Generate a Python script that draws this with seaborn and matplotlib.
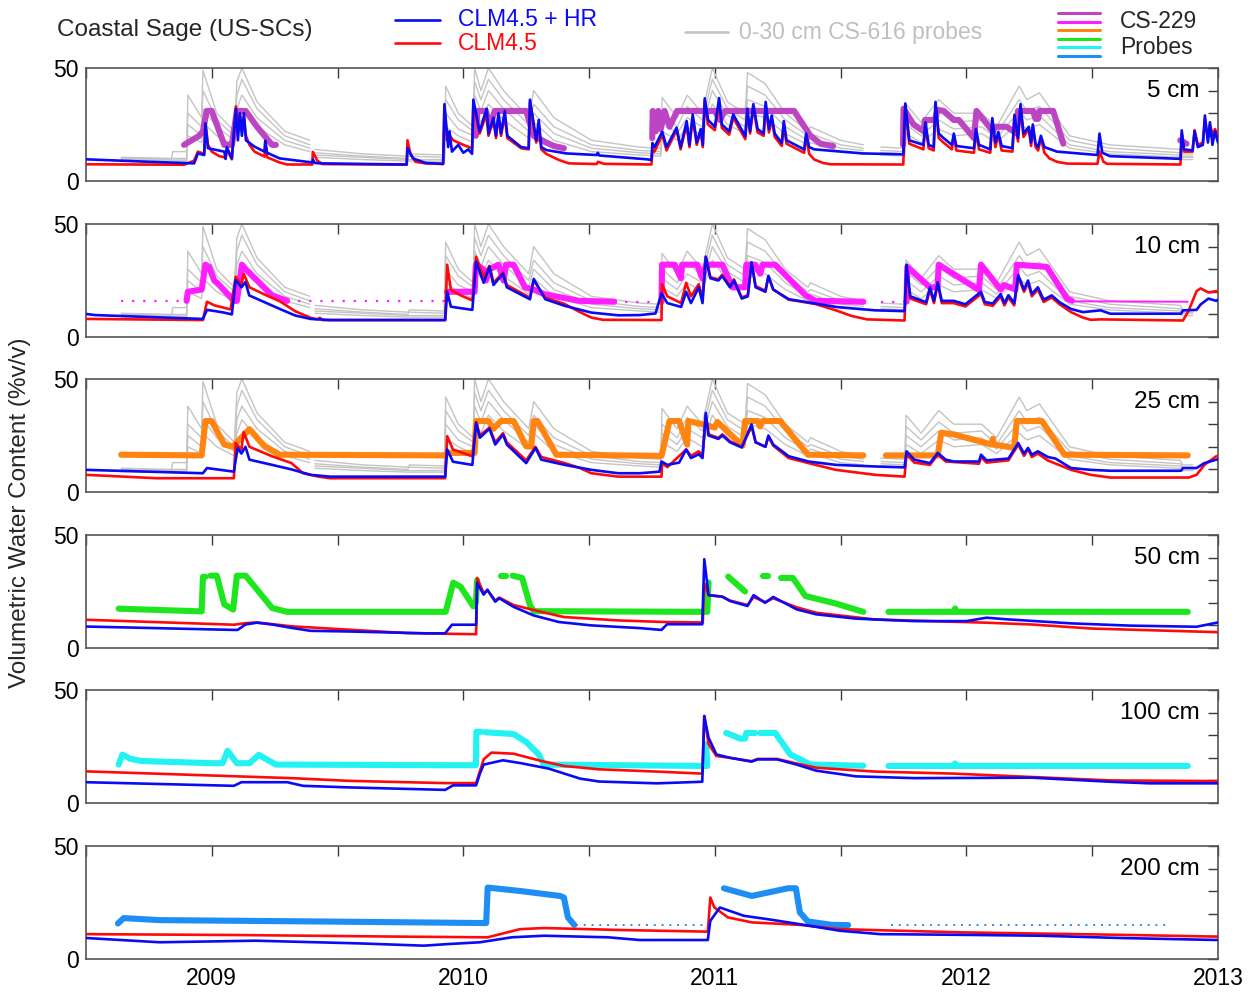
import numpy as np
import pandas as pd
import matplotlib
matplotlib.use("Agg")
import matplotlib.pyplot as plt
from matplotlib.lines import Line2D
import seaborn as sns

nan = float("nan")

# ---------------------------------------------------------------- data
# (decimal year, volumetric water content %) ; nan marks a data gap

# 0-30 cm CS-616 probes (shared by the 5, 10 and 25 cm panels)
probe_t = [2008.64, 2008.84, 2008.845, 2008.90, 2008.905, 2008.96, 2008.965, 2009.02, 2009.09, 2009.10,
           2009.12, 2009.18, 2009.29, 2009.39, 2009.40, 2009.41, 2009.60, 2009.78, 2009.785, 2009.925,
           2009.93, 2009.98, 2010.04, 2010.045, 2010.07, 2010.10, 2010.16, 2010.26, 2010.28, 2010.36,
           2010.51, 2010.70, 2010.785, 2010.79, 2010.85, 2010.89, 2010.95, 2010.99, 2011.05, 2011.12,
           2011.13, 2011.20, 2011.28, 2011.37, 2011.38, 2011.50, 2011.59, 2011.62, 2011.66, 2011.755,
           2011.76, 2011.82, 2011.89, 2011.95, 2012.06, 2012.12, 2012.21, 2012.24, 2012.29, 2012.41,
           2012.57, 2012.85, 2012.86, 2012.90]
probe_a = [10.5, 10.0, 10.0, 10.0, 38, 28, 49, 30, 22, 44,
           50, 35, 22, 18, nan, 14, 12, 11, 11, 10.5,
           42, 30, 24, 50, 40, 50, 40, 28, 40, 28,
           18, 15, 14.5, 37, 28, 38, 30, 50, 35, 30,
           48, 43, 30, 22, 24, 18, 16, nan, 15, 14.5,
           34, 26, 36, 30, 30, 24, 42, 36, 39, 20,
           16, 14, 12, 12]
probe_b = [10.0, 9.8, 13.0, 13.0, 30, 24, 40, 27, 20, 38,
           45, 32, 20, 16, nan, 12.5, 11, 10, 12, 11.5,
           36, 27, 22, 44, 36, 45, 36, 25, 34, 24,
           16, 13.5, 13, 30, 24, 33, 27, 45, 32, 27,
           42, 38, 27, 20, 21, 16, 14.5, nan, 13.5, 13,
           29, 23, 31, 26, 27, 21, 36, 31, 33, 18,
           14.5, 12.5, 11, 11]
probe_c = [9.5, 9.3, 9.3, 9.3, 25, 20, 32, 24, 18, 32,
           38, 28, 18, 14.5, nan, 11.5, 10.5, 9.5, 9.5, 9.5,
           30, 23, 20, 38, 31, 40, 32, 22, 30, 21,
           14.5, 12.5, 12, 26, 21, 28, 24, 40, 29, 24,
           36, 33, 24, 18, 19, 14.5, 13.5, nan, 12.5, 12,
           25, 20, 27, 23, 24, 19, 31, 27, 29, 16,
           13, 11.5, 10.5, 10.5]
probe_d = [9.0, 8.8, 8.8, 8.8, 20, 17, 26, 20, 16, 26,
           32, 24, 16, 13, nan, 10.5, 9.5, 8.8, 8.8, 8.8,
           24, 20, 17, 32, 26, 34, 27, 19, 26, 18,
           13, 11.5, 11, 22, 18, 24, 20, 34, 25, 21,
           30, 28, 21, 16, 17, 13, 12, nan, 11.5, 11,
           21, 17, 23, 20, 21, 17, 26, 23, 25, 14.5,
           12, 10.5, 9.5, 9.5]

# ---- 5 cm
hr_5 = [(2008.50, 9.6), (2008.75, 8.5), (2008.93, 7.8), (2008.945, 12.2), (2008.97, 11.5), (2008.975, 25.5),
        (2008.985, 14.5), (2009.05, 13.0), (2009.055, 9.8), (2009.06, 15.0), (2009.08, 10.0), (2009.096, 32.0),
        (2009.104, 18.0), (2009.112, 30.0), (2009.12, 20.0), (2009.128, 30.0), (2009.136, 18.0), (2009.17, 15.2),
        (2009.21, 13.0), (2009.213, 17.8), (2009.22, 12.5), (2009.27, 10.0), (2009.35, 8.9), (2009.40, 8.2),
        (2009.402, 9.5), (2009.41, 8.0), (2009.43, 7.8), (2009.775, 7.3), (2009.778, 14.5), (2009.80, 10.0),
        (2009.85, 8.0), (2009.92, 7.6), (2009.925, 34.0), (2009.94, 15.0), (2009.945, 22.0), (2009.955, 13.0),
        (2009.98, 16.0), (2010.0, 12.5), (2010.02, 14.0), (2010.035, 12.0), (2010.04, 36.0), (2010.065, 22.0),
        (2010.093, 32.0), (2010.10, 21.0), (2010.12, 28.0), (2010.13, 20.0), (2010.14, 30.0), (2010.15, 21.0),
        (2010.165, 31.0), (2010.175, 20.0), (2010.23, 15.0), (2010.26, 14.5), (2010.265, 36.0), (2010.29, 18.0),
        (2010.30, 27.0), (2010.31, 15.0), (2010.33, 13.7), (2010.41, 12.2), (2010.53, 11.5), (2010.535, 12.5),
        (2010.54, 11.3), (2010.73, 9.6), (2010.748, 9.3), (2010.752, 16.8), (2010.76, 15.0), (2010.791, 21.8),
        (2010.808, 15.0), (2010.848, 23.6), (2010.864, 15.0), (2010.888, 26.5), (2010.899, 16.0), (2010.912, 29.5),
        (2010.928, 17.0), (2010.944, 23.0), (2010.952, 16.0), (2010.96, 36.6), (2010.973, 27.0), (2011.0, 24.0),
        (2011.017, 36.7), (2011.028, 25.0), (2011.057, 22.0), (2011.073, 29.5), (2011.121, 19.8), (2011.129, 32.0),
        (2011.14, 22.0), (2011.153, 34.0), (2011.17, 23.0), (2011.194, 21.0), (2011.202, 35.0), (2011.215, 23.0),
        (2011.226, 29.0), (2011.238, 21.0), (2011.266, 16.8), (2011.274, 26.5), (2011.285, 18.0), (2011.355, 14.0),
        (2011.363, 21.0), (2011.375, 15.0), (2011.395, 14.0), (2011.588, 12.2), (2011.749, 11.8), (2011.757, 34.3),
        (2011.773, 18.0), (2011.829, 16.0), (2011.837, 26.0), (2011.85, 16.0), (2011.87, 15.0), (2011.877, 35.0),
        (2011.89, 21.0), (2011.909, 19.0), (2011.942, 16.0), (2011.95, 21.0), (2011.96, 15.5), (2012.03, 14.5),
        (2012.038, 23.0), (2012.05, 16.0), (2012.095, 14.0), (2012.103, 27.8), (2012.115, 17.0), (2012.127, 21.7),
        (2012.14, 15.5), (2012.183, 14.5), (2012.191, 29.3), (2012.205, 19.0), (2012.215, 34.0), (2012.227, 21.0),
        (2012.248, 24.0), (2012.257, 17.0), (2012.264, 25.0), (2012.275, 16.5), (2012.285, 15.0), (2012.296, 20.0),
        (2012.31, 15.0), (2012.36, 13.0), (2012.521, 11.5), (2012.529, 21.0), (2012.54, 12.5), (2012.57, 11.0),
        (2012.851, 9.8), (2012.856, 22.4), (2012.865, 14.0), (2012.899, 13.5), (2012.907, 22.0), (2012.92, 15.0),
        (2012.94, 16.0), (2012.948, 29.0), (2012.96, 17.0), (2012.968, 26.0), (2012.978, 16.0), (2012.988, 22.0),
        (2013.0, 17.0)]
clm_5 = [(2008.50, 7.4), (2008.89, 7.2), (2008.93, 9.0), (2008.945, 13.0), (2008.97, 12.0), (2008.975, 25.5),
         (2008.985, 16.0), (2009.0, 13.0), (2009.03, 11.0), (2009.05, 10.5), (2009.055, 10.0), (2009.06, 14.0),
         (2009.08, 9.6), (2009.096, 33.0), (2009.104, 22.0), (2009.112, 30.0), (2009.12, 22.0), (2009.128, 28.0),
         (2009.136, 20.0), (2009.15, 16.0), (2009.17, 13.0), (2009.21, 10.8), (2009.213, 17.8), (2009.22, 10.5),
         (2009.27, 8.2), (2009.30, 7.3), (2009.40, 7.3), (2009.402, 12.9), (2009.42, 9.0), (2009.44, 7.5),
         (2009.775, 7.2), (2009.778, 18.0), (2009.79, 12.0), (2009.81, 8.5), (2009.85, 7.8), (2009.92, 7.5),
         (2009.925, 33.0), (2009.935, 18.0), (2009.94, 21.0), (2009.96, 18.0), (2010.0, 16.0), (2010.035, 14.5),
         (2010.04, 34.0), (2010.065, 21.0), (2010.093, 30.0), (2010.10, 20.0), (2010.12, 27.0), (2010.13, 19.0),
         (2010.14, 29.0), (2010.15, 20.0), (2010.165, 29.0), (2010.175, 19.0), (2010.23, 14.5), (2010.26, 14.0),
         (2010.265, 35.0), (2010.29, 17.0), (2010.30, 25.0), (2010.31, 14.0), (2010.33, 12.0), (2010.38, 9.3),
         (2010.42, 7.8), (2010.53, 7.5), (2010.535, 8.5), (2010.56, 7.6), (2010.748, 7.3), (2010.752, 14.0),
         (2010.76, 13.0), (2010.791, 20.5), (2010.808, 13.5), (2010.848, 22.5), (2010.864, 14.0), (2010.888, 25.0),
         (2010.899, 15.0), (2010.912, 28.0), (2010.928, 16.0), (2010.944, 22.0), (2010.952, 15.0), (2010.96, 35.5),
         (2010.973, 25.0), (2011.0, 22.5), (2011.017, 35.0), (2011.028, 23.5), (2011.057, 20.5), (2011.073, 28.0),
         (2011.121, 18.5), (2011.129, 30.5), (2011.14, 21.0), (2011.153, 32.5), (2011.17, 21.5), (2011.194, 20.0),
         (2011.202, 33.5), (2011.215, 21.5), (2011.226, 27.5), (2011.238, 19.5), (2011.266, 15.5), (2011.274, 25.0),
         (2011.285, 16.5), (2011.355, 12.5), (2011.363, 20.0), (2011.375, 12.0), (2011.395, 9.5), (2011.43, 8.0),
         (2011.46, 7.4), (2011.749, 7.3), (2011.757, 33.5), (2011.773, 16.5), (2011.829, 14.0), (2011.837, 25.0),
         (2011.85, 14.5), (2011.87, 13.5), (2011.877, 34.0), (2011.89, 19.0), (2011.909, 17.0), (2011.942, 14.0),
         (2011.95, 20.0), (2011.96, 13.5), (2012.03, 12.5), (2012.038, 22.0), (2012.05, 14.0), (2012.095, 12.5),
         (2012.103, 27.0), (2012.115, 15.0), (2012.127, 20.5), (2012.14, 13.5), (2012.183, 13.0), (2012.191, 28.5),
         (2012.205, 17.5), (2012.215, 33.0), (2012.227, 19.5), (2012.248, 23.0), (2012.257, 15.5), (2012.264, 24.0),
         (2012.275, 15.0), (2012.285, 13.5), (2012.296, 19.0), (2012.31, 12.5), (2012.33, 10.0), (2012.36, 8.5),
         (2012.40, 7.7), (2012.521, 7.6), (2012.529, 13.0), (2012.545, 8.5), (2012.56, 7.6), (2012.851, 7.3),
         (2012.856, 21.0), (2012.865, 13.0), (2012.899, 13.0), (2012.907, 22.5), (2012.92, 16.0), (2012.94, 17.0),
         (2012.948, 27.0), (2012.96, 19.0), (2012.968, 25.0), (2012.98, 20.0), (2012.988, 23.0), (2013.0, 20.0)]
cs_5 = [(2008.89, 16), (2008.92, 18), (2008.95, 20), (2008.965, 22), (2008.98, 31), (2009.0, 31), (2009.02, 25),
        (2009.05, 16), (2009.08, 16), (2009.10, 31), (2009.135, 31), (2009.18, 24), (2009.24, 16), (2009.255, 16),
        (2009.26, nan),
        (2010.05, 20), (2010.056, 31), (2010.09, 31), (2010.105, 24), (2010.125, 31), (2010.25, 31), (2010.28, 20),
        (2010.33, 17), (2010.36, 15.5), (2010.40, 14.5), (2010.41, nan),
        (2010.751, 19), (2010.753, 31), (2010.765, 22), (2010.775, 31), (2010.785, 23), (2010.80, 31),
        (2010.82, 24), (2010.85, 31), (2011.0, 31), (2011.02, 27), (2011.04, 31), (2011.315, 31), (2011.38, 20),
        (2011.42, 16.5), (2011.47, 15.5), (2011.48, nan),
        (2011.748, 16), (2011.75, 32), (2011.79, 25), (2011.83, 22), (2011.835, 27), (2011.875, 27),
        (2011.885, 31.5), (2011.91, 31), (2011.95, 27), (2011.97, 27), (2012.03, 19), (2012.04, 31),
        (2012.105, 22), (2012.115, 24), (2012.16, 24), (2012.2, 21), (2012.205, 31), (2012.265, 31),
        (2012.275, 27.5), (2012.285, 27.5), (2012.29, 31), (2012.345, 31), (2012.385, 16.5), (2012.39, nan),
        (2012.85, 18), (2012.875, 16.5)]

# ---- 10 cm
hr_10 = [(2008.50, 10.2), (2008.537, 9.7), (2008.965, 8.0), (2008.981, 12.0), (2009.011, 11.5), (2009.049, 10.8),
         (2009.08, 10.0), (2009.095, 25.2), (2009.118, 22.0), (2009.134, 24.3), (2009.149, 18.4), (2009.21, 15.4),
         (2009.271, 12.4), (2009.332, 9.5), (2009.393, 8.0), (2009.47, 7.5), (2009.928, 7.5), (2009.936, 20.0),
         (2009.951, 13.4), (2010.036, 12.0), (2010.051, 33.3), (2010.081, 24.0), (2010.104, 31.0), (2010.12, 23.0),
         (2010.158, 28.0), (2010.173, 22.0), (2010.265, 16.7), (2010.28, 25.7), (2010.326, 16.7), (2010.403, 13.8),
         (2010.509, 10.8), (2010.616, 9.6), (2010.702, 9.7), (2010.764, 10.4), (2010.788, 19.3), (2010.811, 15.0),
         (2010.866, 13.3), (2010.886, 20.0), (2010.905, 15.0), (2010.936, 22.0), (2010.951, 15.0), (2010.964, 35.5),
         (2010.982, 26.0), (2011.014, 25.0), (2011.029, 27.0), (2011.06, 22.0), (2011.076, 25.0), (2011.107, 17.0),
         (2011.131, 18.0), (2011.146, 33.0), (2011.162, 22.0), (2011.201, 20.0), (2011.213, 27.0), (2011.232, 21.0),
         (2011.294, 16.7), (2011.372, 15.3), (2011.481, 13.3), (2011.637, 11.8), (2011.754, 11.5), (2011.762, 32.0),
         (2011.777, 18.0), (2011.84, 15.4), (2011.855, 22.0), (2011.871, 16.0), (2011.886, 24.3), (2011.902, 16.0),
         (2011.949, 16.0), (2011.996, 14.5), (2012.058, 20.0), (2012.073, 15.5), (2012.105, 14.8), (2012.136, 19.0),
         (2012.151, 15.0), (2012.167, 18.5), (2012.19, 15.0), (2012.206, 27.4), (2012.229, 21.0), (2012.245, 25.0),
         (2012.26, 19.0), (2012.284, 22.0), (2012.307, 16.5), (2012.339, 18.4), (2012.37, 15.4), (2012.416, 12.4),
         (2012.463, 11.0), (2012.533, 11.8), (2012.572, 10.3), (2012.853, 10.3), (2012.861, 11.8), (2012.915, 12.0),
         (2012.931, 14.4), (2012.962, 17.0), (2012.993, 16.0), (2013.0, 16.5)]
clm_10 = [(2008.50, 8.0), (2008.965, 7.5), (2008.981, 15.6), (2009.011, 14.0), (2009.075, 12.2), (2009.095, 26.7),
          (2009.118, 23.0), (2009.127, 28.0), (2009.15, 22.0), (2009.21, 18.8), (2009.271, 15.8), (2009.332, 11.4),
          (2009.393, 8.5), (2009.42, 7.8), (2009.43, 8.5), (2009.44, 7.5), (2009.928, 7.5), (2009.936, 32.0),
          (2009.951, 20.8), (2009.99, 18.4), (2010.036, 16.2), (2010.051, 35.5), (2010.081, 26.6), (2010.104, 31.5),
          (2010.12, 24.0), (2010.158, 28.5), (2010.173, 23.0), (2010.265, 17.4), (2010.28, 25.0), (2010.326, 17.4),
          (2010.403, 14.6), (2010.464, 11.0), (2010.509, 8.6), (2010.555, 7.6), (2010.788, 7.5), (2010.79, 23.4),
          (2010.811, 18.0), (2010.866, 15.0), (2010.886, 24.0), (2010.905, 18.0), (2010.936, 23.4), (2010.951, 17.0),
          (2010.964, 35.5), (2010.982, 26.5), (2011.014, 25.5), (2011.029, 27.5), (2011.06, 22.5), (2011.076, 25.5),
          (2011.107, 17.5), (2011.131, 18.5), (2011.146, 33.0), (2011.162, 22.5), (2011.201, 20.5), (2011.213, 27.0),
          (2011.232, 21.0), (2011.294, 16.5), (2011.325, 16.0), (2011.40, 14.6), (2011.481, 11.8), (2011.544, 9.3),
          (2011.605, 7.8), (2011.754, 7.3), (2011.762, 30.0), (2011.777, 17.0), (2011.84, 14.5), (2011.855, 21.0),
          (2011.871, 15.0), (2011.886, 23.5), (2011.902, 15.0), (2011.949, 15.0), (2011.996, 13.5), (2012.058, 19.0),
          (2012.073, 14.5), (2012.105, 13.8), (2012.136, 18.0), (2012.151, 14.0), (2012.167, 17.5), (2012.19, 14.0),
          (2012.206, 26.5), (2012.229, 20.0), (2012.245, 24.0), (2012.26, 18.0), (2012.284, 21.0), (2012.307, 15.5),
          (2012.339, 17.5), (2012.37, 14.5), (2012.416, 11.0), (2012.463, 8.6), (2012.494, 7.6), (2012.533, 7.8),
          (2012.861, 7.3), (2012.884, 11.8), (2012.915, 20.3), (2012.931, 21.5), (2012.962, 19.7), (2012.993, 20.3),
          (2013.0, 20.0)]
cs_10 = [(2008.90, 16), (2008.905, 20), (2008.96, 21), (2008.975, 32), (2008.99, 31), (2009.01, 25), (2009.03, 23),
         (2009.088, 16), (2009.10, 16), (2009.12, 32), (2009.135, 30), (2009.24, 18.4), (2009.30, 16),
         (2009.31, nan),
         (2009.935, 20), (2010.045, 20), (2010.05, 32), (2010.08, 30), (2010.09, 25), (2010.105, 30),
         (2010.14, 32), (2010.16, 25), (2010.17, 32), (2010.20, 32), (2010.245, 22), (2010.28, 21), (2010.32, 19),
         (2010.46, 16), (2010.60, 15.6), (2010.61, nan),
         (2010.788, 15.6), (2010.79, 32), (2010.84, 32), (2010.865, 26), (2010.87, 32), (2010.93, 32),
         (2010.95, 26), (2010.965, 32), (2011.03, 32), (2011.07, 22), (2011.12, 22), (2011.125, 32),
         (2011.16, 32), (2011.18, 28), (2011.19, 32), (2011.24, 32), (2011.36, 18.5), (2011.40, 16),
         (2011.59, 15.6), (2011.60, nan),
         (2011.762, 15.6), (2011.765, 31), (2011.855, 22), (2011.885, 22), (2011.89, 32), (2012.05, 20.8),
         (2012.058, 32), (2012.136, 21), (2012.15, 23), (2012.195, 21), (2012.2, 32), (2012.32, 31),
         (2012.40, 17), (2012.42, 16)]
cs_10_sparse = [(2008.64, 15.8), (2008.90, 15.8), (2008.91, nan), (2009.30, 15.8), (2009.935, 15.8),
                (2009.94, nan), (2010.60, 15.6), (2010.788, 15.6), (2010.79, nan), (2011.66, 15.6),
                (2011.762, 15.6)]
cs_10_tail = [(2012.42, 15.8), (2012.88, 15.6)]

# ---- 25 cm
hr_25 = [(2008.50, 9.8), (2008.965, 8.3), (2008.981, 10.6), (2009.088, 9.0), (2009.103, 19.5), (2009.118, 17.0),
         (2009.134, 20.0), (2009.15, 14.3), (2009.24, 12.0), (2009.317, 10.0), (2009.393, 7.6), (2009.47, 6.8),
         (2009.928, 6.8), (2009.936, 18.8), (2009.959, 13.4), (2010.036, 12.0), (2010.051, 30.6), (2010.066, 24.0),
         (2010.104, 28.0), (2010.127, 21.0), (2010.158, 25.4), (2010.173, 21.0), (2010.25, 12.8), (2010.287, 19.5),
         (2010.31, 14.3), (2010.403, 12.0), (2010.509, 9.8), (2010.616, 8.3), (2010.702, 8.3), (2010.78, 9.0),
         (2010.788, 13.5), (2010.811, 12.0), (2010.858, 13.0), (2010.886, 18.8), (2010.905, 15.0), (2010.936, 16.7),
         (2010.951, 15.0), (2010.964, 35.0), (2010.975, 25.0), (2011.014, 23.5), (2011.03, 25.0), (2011.06, 22.0),
         (2011.107, 19.7), (2011.146, 29.9), (2011.162, 22.0), (2011.201, 20.0), (2011.213, 25.0), (2011.232, 21.0),
         (2011.294, 15.8), (2011.372, 13.5), (2011.481, 12.0), (2011.637, 11.3), (2011.754, 10.9), (2011.762, 18.0),
         (2011.793, 14.3), (2011.855, 12.8), (2011.886, 17.3), (2011.918, 14.3), (2011.95, 13.5), (2012.05, 13.5),
         (2012.058, 16.5), (2012.08, 14.0), (2012.167, 14.8), (2012.206, 21.7), (2012.229, 17.0), (2012.245, 19.5),
         (2012.26, 16.5), (2012.284, 18.0), (2012.323, 15.5), (2012.354, 14.8), (2012.416, 10.6), (2012.494, 9.8),
         (2012.572, 9.4), (2012.853, 9.4), (2012.861, 10.6), (2012.915, 10.6), (2012.946, 12.8), (2012.993, 14.3),
         (2013.0, 14.5)]
clm_25 = [(2008.50, 7.6), (2008.78, 6.1), (2009.088, 6.1), (2009.095, 21.7), (2009.118, 18.8), (2009.127, 26.5),
          (2009.15, 20.0), (2009.24, 15.8), (2009.317, 12.8), (2009.363, 8.3), (2009.424, 6.8), (2009.47, 6.1),
          (2009.928, 6.1), (2009.936, 24.7), (2009.959, 18.8), (2010.036, 15.8), (2010.051, 31.0), (2010.066, 25.0),
          (2010.104, 28.5), (2010.127, 22.0), (2010.158, 26.0), (2010.173, 22.0), (2010.25, 14.0), (2010.287, 20.0),
          (2010.31, 15.5), (2010.403, 12.8), (2010.464, 10.6), (2010.509, 8.3), (2010.616, 6.8), (2010.788, 6.8),
          (2010.79, 12.8), (2010.811, 11.0), (2010.886, 18.8), (2010.905, 16.0), (2010.936, 18.0), (2010.951, 16.0),
          (2010.964, 34.0), (2010.975, 25.5), (2011.014, 24.0), (2011.03, 25.5), (2011.06, 22.5), (2011.107, 20.0),
          (2011.146, 29.0), (2011.162, 22.0), (2011.201, 20.0), (2011.213, 24.5), (2011.232, 20.5), (2011.294, 15.0),
          (2011.372, 12.8), (2011.481, 9.8), (2011.637, 7.6), (2011.754, 6.8), (2011.762, 16.7), (2011.793, 13.0),
          (2011.855, 12.0), (2011.886, 16.5), (2011.918, 13.5), (2012.05, 12.5), (2012.058, 15.5), (2012.08, 13.0),
          (2012.167, 14.0), (2012.206, 21.0), (2012.229, 16.0), (2012.245, 19.0), (2012.26, 15.5), (2012.284, 17.0),
          (2012.323, 14.0), (2012.416, 9.8), (2012.494, 7.6), (2012.572, 6.4), (2012.884, 6.4), (2012.915, 7.6),
          (2012.946, 12.0), (2012.993, 15.8), (2013.0, 16.0)]
cs_25 = [(2008.64, 16.5), (2008.96, 16.2), (2008.975, 31.4), (2009.0, 31.4), (2009.05, 21), (2009.085, 20),
         (2009.10, 22), (2009.15, 27.8), (2009.21, 20.2), (2009.27, 16.5), (2009.928, 16.2), (2009.936, 17.3),
         (2010.045, 17.3), (2010.051, 31.4), (2010.10, 31.4), (2010.12, 28), (2010.15, 31.4), (2010.20, 31.4),
         (2010.25, 20.2), (2010.27, 20.2), (2010.28, 31.4), (2010.295, 31.4), (2010.37, 16.5), (2010.788, 16.0),
         (2010.82, 31.4), (2010.858, 31.4), (2010.89, 21), (2010.895, 31.4), (2010.95, 30), (2011.0, 28.5),
         (2011.01, 31), (2011.11, 20.5), (2011.12, 31.4), (2011.17, 31.4), (2011.18, 29), (2011.19, 31.4),
         (2011.26, 31.4), (2011.37, 16.5), (2011.59, 16.2), (2011.60, nan),
         (2011.68, 16.2), (2011.886, 16.2), (2011.90, 26.2), (2011.95, 25.5), (2012.05, 22.5), (2012.10, 21),
         (2012.105, 23.5), (2012.11, 21), (2012.19, 19.5), (2012.20, 31.4), (2012.30, 31.4), (2012.39, 16.5),
         (2012.88, 16.2)]

# ---- 50 cm
hr_50 = [(2008.50, 9.5), (2009.088, 8.0), (2009.103, 8.0), (2009.134, 10.4), (2009.18, 11.2), (2009.24, 10.4),
         (2009.317, 8.9), (2009.393, 7.6), (2009.546, 7.3), (2009.852, 6.5), (2009.928, 6.5), (2009.955, 10.3),
         (2010.051, 10.3), (2010.055, 28.8), (2010.081, 23.6), (2010.096, 25.8), (2010.127, 20.5), (2010.143, 22.0),
         (2010.20, 18.2), (2010.28, 14.4), (2010.38, 11.5), (2010.509, 10.0), (2010.702, 8.8), (2010.788, 8.0),
         (2010.81, 10.5), (2010.95, 10.5), (2010.958, 39.3), (2010.975, 23.4), (2011.03, 22.7), (2011.06, 20.8),
         (2011.13, 18.6), (2011.154, 23.4), (2011.2, 20.0), (2011.232, 22.6), (2011.325, 17.1), (2011.403, 14.9),
         (2011.56, 13.0), (2011.793, 11.9), (2012.0, 11.9), (2012.08, 13.4), (2012.16, 12.7), (2012.416, 10.9),
         (2012.65, 9.9), (2012.915, 9.4), (2013.0, 11.3)]
clm_50 = [(2008.50, 12.5), (2009.088, 10.3), (2009.134, 11.0), (2009.18, 11.3), (2009.317, 9.6), (2009.546, 8.1),
          (2009.775, 6.6), (2010.051, 6.1), (2010.055, 31.0), (2010.081, 24.3), (2010.096, 25.5), (2010.127, 21.0),
          (2010.143, 22.3), (2010.20, 19.0), (2010.31, 16.0), (2010.40, 13.7), (2010.616, 12.2), (2010.80, 11.5),
          (2010.952, 11.3), (2010.958, 28.4), (2010.975, 23.4), (2011.03, 22.7), (2011.06, 21.0), (2011.13, 19.0),
          (2011.154, 22.5), (2011.2, 20.3), (2011.232, 22.0), (2011.325, 18.0), (2011.403, 15.6), (2011.637, 12.6),
          (2011.95, 11.6), (2012.08, 11.2), (2012.26, 10.4), (2012.50, 8.6), (2013.0, 7.0)]
cs_50 = [(2008.63, 17.4), (2008.96, 16.2), (2008.965, 31.5), (2008.975, 31.5), (2008.98, nan),
         (2008.995, 32), (2009.02, 32), (2009.05, 19.3), (2009.085, 17), (2009.10, 32), (2009.135, 32),
         (2009.24, 17.7), (2009.30, 16), (2009.93, 16), (2009.96, 28.9), (2009.99, 27), (2010.04, 18.4),
         (2010.05, 20), (2010.055, 30), (2010.06, nan),
         (2010.15, 31.8), (2010.17, 31.8), (2010.18, nan),
         (2010.196, 32), (2010.234, 31), (2010.265, 19), (2010.28, 16.3), (2010.97, 16), (2010.975, 29),
         (2010.98, nan),
         (2011.053, 31.6), (2011.12, 25), (2011.125, nan),
         (2011.19, 32), (2011.21, 32), (2011.215, nan),
         (2011.263, 31), (2011.31, 31), (2011.36, 23), (2011.48, 19.7), (2011.59, 16), (2011.60, nan),
         (2011.69, 16), (2011.95, 16), (2011.955, 17.5), (2011.96, 16), (2012.88, 16)]

# ---- 100 cm
hr_100 = [(2008.50, 9.2), (2009.088, 7.6), (2009.118, 9.2), (2009.30, 9.2), (2009.363, 7.6), (2009.546, 6.9),
          (2009.928, 5.8), (2009.959, 7.8), (2010.051, 7.8), (2010.066, 13.0), (2010.081, 17.0), (2010.158, 18.9),
          (2010.23, 17.6), (2010.34, 15.2), (2010.464, 10.8), (2010.54, 9.5), (2010.77, 8.7), (2010.95, 9.4),
          (2010.958, 38.5), (2010.975, 28.9), (2011.006, 21.5), (2011.06, 20.0), (2011.146, 18.3), (2011.17, 19.3),
          (2011.247, 19.3), (2011.325, 17.0), (2011.403, 14.3), (2011.56, 11.8), (2011.793, 11.0), (2012.26, 11.2),
          (2012.572, 9.4), (2012.728, 8.7), (2013.0, 8.7)]
clm_100 = [(2008.50, 14.0), (2009.317, 11.0), (2009.546, 9.8), (2009.928, 8.8), (2010.051, 8.8), (2010.081, 19.3),
           (2010.112, 22.3), (2010.20, 21.8), (2010.31, 18.6), (2010.40, 16.4), (2010.54, 14.9), (2010.77, 13.9),
           (2010.95, 13.0), (2010.958, 38.5), (2010.975, 26.0), (2011.006, 20.8), (2011.06, 20.0), (2011.146, 18.5),
           (2011.17, 19.5), (2011.247, 19.5), (2011.325, 17.5), (2011.403, 15.6), (2011.637, 13.9), (2011.95, 13.0),
           (2012.26, 11.5), (2012.572, 10.0), (2013.0, 9.7)]
cs_100 = [(2008.63, 17), (2008.645, 21.4), (2008.675, 19.6), (2008.72, 18.6), (2009.0, 17.6), (2009.043, 17.6),
          (2009.063, 23.1), (2009.10, 17.6), (2009.15, 17.6), (2009.187, 21.3), (2009.255, 17), (2010.05, 16.7),
          (2010.052, 31.5), (2010.072, 31.5), (2010.078, nan),
          (2010.088, 31.3), (2010.20, 30.5), (2010.25, 27), (2010.30, 21.5), (2010.32, 17), (2010.96, 16.4),
          (2010.965, 26), (2010.97, 16.4), (2010.975, nan),
          (2011.045, 31), (2011.08, 29.5), (2011.10, 28.5), (2011.12, 28.5), (2011.125, 31), (2011.16, 31),
          (2011.165, nan),
          (2011.18, 31), (2011.24, 31), (2011.30, 21.5), (2011.38, 17), (2011.59, 16.5), (2011.60, nan),
          (2011.69, 16.4), (2011.95, 16.4), (2011.955, 17.5), (2011.96, 16.4), (2012.88, 16.4)]

# ---- 200 cm
hr_200 = [(2008.50, 9.3), (2008.793, 7.4), (2009.175, 8.1), (2009.588, 6.9), (2009.843, 5.9), (2009.938, 6.6),
          (2010.066, 7.4), (2010.193, 9.6), (2010.32, 10.3), (2010.575, 9.6), (2010.702, 8.4), (2010.972, 8.4),
          (2010.982, 16.9), (2011.02, 22.8), (2011.116, 19.1), (2011.211, 17.6), (2011.338, 15.4), (2011.497, 12.5),
          (2011.657, 11.0), (2011.975, 10.7), (2012.293, 10.3), (2012.611, 9.3), (2013.0, 8.4)]
clm_200 = [(2008.50, 11.0), (2009.111, 10.6), (2009.747, 9.9), (2010.097, 9.6), (2010.225, 13.2), (2010.32, 13.7),
           (2010.638, 12.8), (2010.972, 12.1), (2010.982, 27.2), (2010.998, 22.8), (2011.052, 18.4),
           (2011.147, 16.2), (2011.338, 15.1), (2011.497, 13.2), (2011.975, 11.8), (2012.611, 10.7), (2013.0, 9.9)]
cs_200 = [(2008.627, 15.7), (2008.65, 18.1), (2008.793, 17.2), (2009.429, 16.6), (2010.091, 15.9),
          (2010.097, 31.6), (2010.225, 30.1), (2010.384, 27.9), (2010.40, 27.2), (2010.416, 18.4),
          (2010.441, 15.1), (2010.45, nan),
          (2011.036, 31.3), (2011.147, 27.9), (2011.211, 29.4), (2011.291, 31.3), (2011.322, 31.3),
          (2011.338, 20.6), (2011.37, 16.6), (2011.466, 15.1), (2011.53, 15.0)]
cs_200_sparse = [(2010.45, 15.1), (2010.96, 15.1), (2010.97, nan), (2011.70, 15.0), (2012.80, 15.0)]

depth_labels = ["5 cm", "10 cm", "25 cm", "50 cm", "100 cm", "200 cm"]

# ---------------------------------------------------------------- style
C_HR = "#0a0af5"
C_CLM = "#ff0a0a"
C_GRAY = "#c4c4c4"
C_PROBE = ["#bd45c4", "#ff1eff", "#ff8410", "#1ee61e", "#22f2f2", "#1e8ef5"]

sns.set_theme(style="white")
plt.rcParams["font.family"] = ["Liberation Sans", "DejaVu Sans"]


def frame(pairs):
    df = pd.DataFrame(pairs, columns=["year", "vwc"])
    df["seg"] = df["vwc"].isna().cumsum()
    return df.dropna()


def draw(ax, pairs, color, lw, z, ls="-"):
    sns.lineplot(data=frame(pairs), x="year", y="vwc", units="seg", estimator=None,
                 sort=False, color=color, linewidth=lw, linestyle=ls, ax=ax,
                 zorder=z, legend=False)


fig = plt.figure(figsize=(12.51, 10), dpi=100)
left, width, height = 0.0687, 0.9049, 0.113
bottoms = [0.819, 0.663, 0.508, 0.352, 0.197, 0.041]

model_hr = [hr_5, hr_10, hr_25, hr_50, hr_100, hr_200]
model_clm = [clm_5, clm_10, clm_25, clm_50, clm_100, clm_200]
observed = [cs_5, cs_10, cs_25, cs_50, cs_100, cs_200]
gray_lines = [probe_a, probe_b, probe_c, probe_d]

axes = [fig.add_axes([left, b, width, height]) for b in bottoms]

for i, ax in enumerate(axes):
    if i < 3:
        for g in gray_lines:
            draw(ax, list(zip(probe_t, g)), C_GRAY, 1.0, 1)
    draw(ax, observed[i], C_PROBE[i], 4.4, 2)
    draw(ax, model_clm[i], C_CLM, 1.9, 3)
    draw(ax, model_hr[i], C_HR, 1.9, 4)

draw(axes[1], cs_10_sparse, C_PROBE[1], 1.6, 2, ls=(0, (1, 4)))
draw(axes[1], cs_10_tail, C_PROBE[1], 1.4, 2)
draw(axes[5], cs_200_sparse, C_PROBE[5], 1.4, 2, ls=(0, (1, 3)))

half_years = np.arange(2008.5, 2013.01, 0.5)
for i, ax in enumerate(axes):
    ax.set_xlim(2008.5, 2013.0)
    ax.set_ylim(0, 50)
    ax.set_xlabel("")
    ax.set_ylabel("")
    ax.set_xticks(half_years)
    if i == 5:
        ax.set_xticklabels([str(int(t)) if float(t).is_integer() else "" for t in half_years])
    else:
        ax.set_xticklabels([])
    ax.set_yticks([0, 10, 20, 30, 40, 50])
    ax.set_yticklabels(["0", "", "", "", "", "50"])
    ax.tick_params(direction="in", top=True, right=True, length=7, width=1.0,
                   color="#3a3a3a", labelcolor="black", labelsize=16.5)
    ax.tick_params(axis="x", pad=6)
    ax.tick_params(axis="y", pad=5)
    for sp in ax.spines.values():
        sp.set_color("#555555")
        sp.set_linewidth(1.2)
    ax.text(0.984, 40, depth_labels[i], transform=ax.get_yaxis_transform(),
            ha="right", va="center", fontsize=17.5, color="black")

# ---------------------------------------------------------------- annotations
def fx(px):
    return px / 1251.0


def fy(py):
    return 1.0 - py / 1000.0


fig.text(fx(57), fy(30), "Coastal Sage (US-SCs)", ha="left", va="center", fontsize=17.5)

for yy, col, lab in [(20, C_HR, "CLM4.5 + HR"), (43, C_CLM, "CLM4.5")]:
    fig.add_artist(Line2D([fx(395), fx(440)], [fy(yy), fy(yy)], color=col, lw=1.9,
                          transform=fig.transFigure))
    fig.text(fx(458), fy(yy), lab, color=col, ha="left", va="center", fontsize=16.5)

fig.add_artist(Line2D([fx(685), fx(728)], [fy(32), fy(32)], color=C_GRAY, lw=1.9,
                      transform=fig.transFigure))
fig.text(fx(739), fy(32), "0-30 cm CS-616 probes", color="#c0c0c0", ha="left", va="center", fontsize=16.5)

for k, col in enumerate(C_PROBE):
    yy = 13 + k * 8.5
    fig.add_artist(Line2D([fx(1058), fx(1100)], [fy(yy), fy(yy)], color=col, lw=2.2,
                          transform=fig.transFigure))
fig.text(fx(1120), fy(22), "CS-229", ha="left", va="center", fontsize=16.5)
fig.text(fx(1120), fy(48), "Probes", ha="left", va="center", fontsize=16.5)

fig.text(fx(20), fy(513), "Volumetric Water Content (%v/v)", rotation=90,
         ha="center", va="center", fontsize=17.5)

fig.savefig("out.png", dpi=100)
